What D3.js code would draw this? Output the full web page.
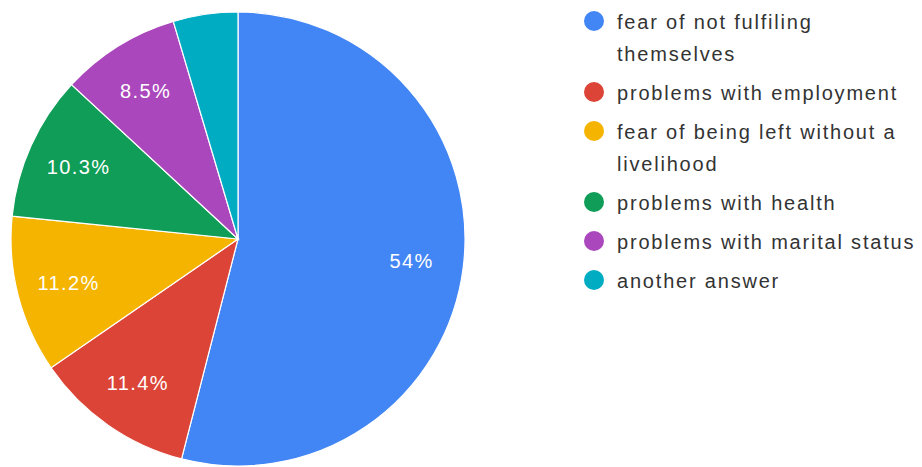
<!DOCTYPE html>
<html>
<head>
<meta charset="utf-8">
<script src="https://cdn.jsdelivr.net/npm/d3@7/dist/d3.min.js"></script>
<style>
  html, body { margin: 0; padding: 0; background: #ffffff; }
  svg { display: block; }
</style>
</head>
<body>
<svg id="chart" width="922" height="467"></svg>
<script>
// ---- data ----
const categories = [
  "fear of not fulfiling\nthemselves",
  "problems with employment",
  "fear of being left without a\nlivelihood",
  "problems with health",
  "problems with marital status",
  "another answer"
];
const values = [54, 11.4, 11.2, 10.3, 8.5, 4.6];
const valueLabels = ["54%", "11.4%", "11.2%", "10.3%", "8.5%", ""];
const colors = ["#4285f4", "#db4437", "#f4b400", "#0f9d58", "#ab47bc", "#00acc1"];

// ---- layout ----
const svg = d3.select("#chart");
const cx = 238, cy = 239, R = 227, labelR = 175;
const font = "Arial, 'Liberation Sans', sans-serif";

const data = categories.map((c, i) => ({ name: c, value: values[i], label: valueLabels[i], color: colors[i] }));

const pie = d3.pie().value(d => d.value).sort(null);
const arcs = pie(data);
const arc = d3.arc().innerRadius(0).outerRadius(R);
const labelArc = d3.arc().innerRadius(labelR).outerRadius(labelR);

const g = svg.append("g").attr("transform", `translate(${cx},${cy})`);
g.selectAll("path.slice").data(arcs).enter().append("path")
  .attr("class", "slice")
  .attr("d", arc)
  .attr("fill", d => d.data.color)
  .attr("stroke", "#ffffff")
  .attr("stroke-width", 1.2);

g.selectAll("text.lbl").data(arcs.filter(d => d.data.label)).enter().append("text")
  .attr("class", "lbl")
  .attr("transform", d => `translate(${labelArc.centroid(d)})`)
  .attr("text-anchor", "middle")
  .attr("dy", "0.36em")
  .attr("font-family", font)
  .attr("font-size", 20)
  .attr("letter-spacing", 1.4)
  .attr("fill", "#ffffff")
  .text(d => d.data.label);

// ---- legend ----
const legend = svg.append("g");
const lineH = 32, itemGap = 39;
let y = 29;
data.forEach((d, i) => {
  const lines = d.name.split("\n");
  legend.append("circle")
    .attr("cx", 594).attr("cy", y - 8).attr("r", 10)
    .attr("fill", d.color);
  const t = legend.append("text")
    .attr("font-family", font)
    .attr("font-size", 20)
    .attr("letter-spacing", 1.8)
    .attr("fill", "#333333");
  lines.forEach((ln, j) => {
    t.append("tspan").attr("x", 617).attr("y", y + j * lineH).text(ln);
  });
  y += (lines.length - 1) * lineH + itemGap;
});
</script>
</body>
</html>
